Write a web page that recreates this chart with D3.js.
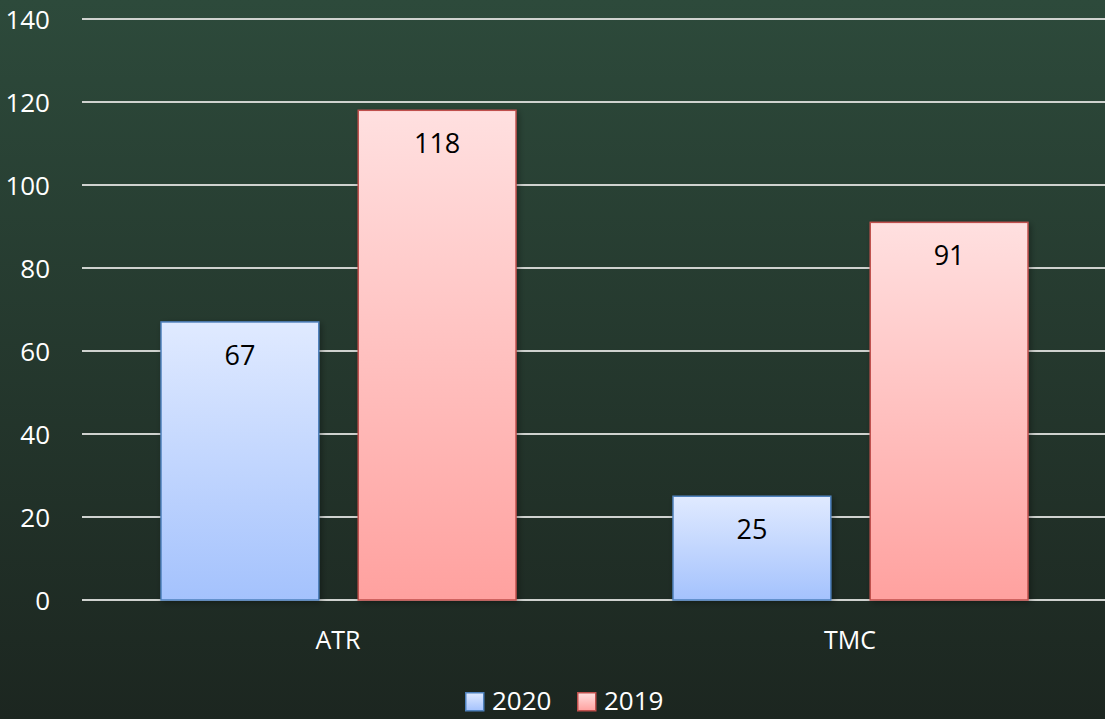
<!DOCTYPE html>
<html>
<head>
<meta charset="utf-8">
<script src="https://cdn.jsdelivr.net/npm/d3@7"></script>
<style>
  html, body { margin: 0; padding: 0; }
  body { width: 1105px; height: 719px; overflow: hidden; }
  text { font-family: "Open Sans", "Noto Sans", sans-serif; }
</style>
</head>
<body>
<div id="chart"></div>
<script>
// chart data
let categories = ['ATR', 'TMC'];
let seriesNames = ['2020', '2019'];
let values2020 = [67, 25];
let values2019 = [118, 91];
let yTicks = [0, 20, 40, 60, 80, 100, 120, 140];

let svgWidth = 1105;
let svgHeight = 719;
let fontStack = '"Open Sans", "Noto Sans", sans-serif';

let svg = d3.select('#chart').append('svg')
  .attr('width', svgWidth)
  .attr('height', svgHeight);

let defs = svg.append('defs');

// background gradient
let bg = defs.append('linearGradient')
  .attr('id', 'bg')
  .attr('x1', 0).attr('y1', 0).attr('x2', 0).attr('y2', 1);
bg.append('stop').attr('offset', '0%').attr('stop-color', '#2d4a3b');
bg.append('stop').attr('offset', '100%').attr('stop-color', '#1c2620');

// bar gradients
let fills = {
  '2020': { top: '#e0eaff', bottom: '#a4c2fd', stroke: '#4f81bd' },
  '2019': { top: '#ffe0e0', bottom: '#ffa19f', stroke: '#c0504d' }
};
seriesNames.forEach(s => {
  let g = defs.append('linearGradient')
    .attr('id', 'grad' + s)
    .attr('x1', 0).attr('y1', 0).attr('x2', 0).attr('y2', 1);
  g.append('stop').attr('offset', '0%').attr('stop-color', fills[s].top);
  g.append('stop').attr('offset', '100%').attr('stop-color', fills[s].bottom);
});

let shadow = defs.append('filter').attr('id', 'shadow')
  .attr('x', '-10%').attr('y', '-10%').attr('width', '130%').attr('height', '130%');
shadow.append('feGaussianBlur').attr('in', 'SourceAlpha').attr('stdDeviation', 3);
shadow.append('feOffset').attr('dx', 2).attr('dy', 2).attr('result', 'blur');
shadow.append('feComponentTransfer').append('feFuncA').attr('type', 'linear').attr('slope', 0.35);
let merge = shadow.append('feMerge');
merge.append('feMergeNode');
merge.append('feMergeNode').attr('in', 'SourceGraphic');

svg.append('rect')
  .attr('width', svgWidth)
  .attr('height', svgHeight)
  .attr('fill', 'url(#bg)');

// scales
let x0 = d3.scaleBand()
  .domain(categories)
  .range([82, 1106]);

let x1 = d3.scaleBand()
  .domain(seriesNames)
  .range([79, x0.bandwidth() - 78])
  .paddingInner(0.2);

let y = d3.scaleLinear()
  .domain([0, 140])
  .range([600, 19]);

// gridlines
svg.append('g')
  .selectAll('line')
  .data(yTicks)
  .enter()
  .append('line')
  .attr('x1', 82)
  .attr('x2', 1106)
  .attr('y1', d => y(d))
  .attr('y2', d => y(d))
  .attr('stroke', '#cfd2cf')
  .attr('stroke-width', 2);

// y axis labels
let yAxis = svg.append('g')
  .attr('transform', 'translate(50, 0)')
  .call(d3.axisLeft(y).tickValues(yTicks).tickSize(0).tickPadding(0));
yAxis.select('.domain').remove();
yAxis.selectAll('text')
  .attr('fill', '#ffffff')
  .attr('dy', '0.36em')
  .style('font-size', '26px')
  .style('font-family', fontStack);

// x axis labels
let xAxis = svg.append('g')
  .attr('transform', 'translate(0, 630)')
  .call(d3.axisBottom(x0).tickSize(0).tickPadding(0));
xAxis.select('.domain').remove();
xAxis.selectAll('text')
  .attr('fill', '#ffffff')
  .attr('dy', 0)
  .attr('y', 19)
  .style('font-size', '25px')
  .style('font-family', fontStack);

// bars
let rows = categories.map((c, i) => ({
  cat: c,
  vals: [
    { key: '2020', value: values2020[i] },
    { key: '2019', value: values2019[i] }
  ]
}));

let groups = svg.selectAll('.cat')
  .data(rows)
  .enter()
  .append('g')
  .attr('transform', d => `translate(${x0(d.cat)}, 0)`);

groups.selectAll('rect')
  .data(d => d.vals)
  .enter()
  .append('rect')
  .attr('x', d => x1(d.key))
  .attr('y', d => y(d.value))
  .attr('width', x1.bandwidth())
  .attr('height', d => y(0) - y(d.value))
  .attr('fill', d => `url(#grad${d.key})`)
  .attr('stroke', d => fills[d.key].stroke)
  .attr('stroke-width', 1.5)
  .attr('filter', 'url(#shadow)');

groups.selectAll('.val')
  .data(d => d.vals)
  .enter()
  .append('text')
  .classed('val', true)
  .attr('x', d => x1(d.key) + x1.bandwidth() / 2)
  .attr('y', d => y(d.value) + 43)
  .attr('text-anchor', 'middle')
  .style('font-size', '27px')
  .attr('fill', '#000000')
  .text(d => d.value);

// legend
let legend = svg.append('g')
  .attr('transform', 'translate(465, 710)');

let legendItems = legend.selectAll('g')
  .data(seriesNames)
  .enter()
  .append('g')
  .attr('transform', (d, i) => `translate(${i * 112}, 0)`);

legendItems.append('rect')
  .attr('x', 0.75)
  .attr('y', -17.25)
  .attr('width', 18)
  .attr('height', 18)
  .attr('fill', d => `url(#grad${d})`)
  .attr('stroke', d => fills[d].stroke)
  .attr('stroke-width', 1.5);

legendItems.append('text')
  .attr('x', 27)
  .attr('y', 0)
  .style('font-size', '26px')
  .attr('fill', '#ffffff')
  .text(d => d);
</script>
</body>
</html>
